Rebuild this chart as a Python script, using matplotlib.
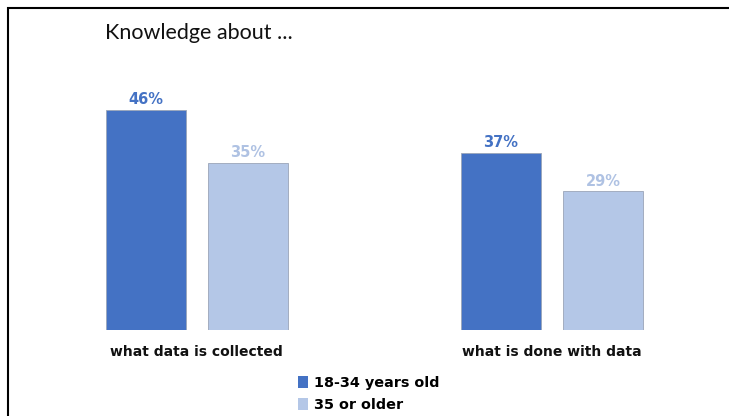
import numpy as np
import matplotlib.pyplot as plt
from matplotlib.patches import Rectangle, Patch

# data
categories = ['what data is collected', 'what is done with data']
series = ['18-34 years old', '35 or older']
young = [46, 37]
older = [35, 29]
colors = ['#4472C4', '#B4C7E7']
label_colors = ['#4472C4', '#AFC2E3']

W, H = 729, 416
fig = plt.figure(figsize=(W / 100, H / 100), dpi=100)

# axes bottom sits on the bar baseline (330 px from top)
base = 330
top = 60
ax = fig.add_axes([0, (H - base) / H, 1, (base - top) / H])
ppu = 355.5  # px between category centres
ax.set_xlim(-196.5 / ppu, (W - 196.5) / ppu)
ax.set_ylim(0, (base - top) / 4.78)

x = np.arange(len(categories))
w = 80 / ppu
off = 102 / 2 / ppu
for vals, c, lc, sign in [(young, colors[0], label_colors[0], -1),
                          (older, colors[1], label_colors[1], 1)]:
    bars = ax.bar(x + sign * off, vals, w, color=c, edgecolor='#9AA5B8', linewidth=0.6)
    for b, v in zip(bars, vals):
        ax.text(b.get_x() + b.get_width() / 2, v + 0.6, f'{v}%', ha='center', va='bottom',
                color=lc, fontsize=10.5, fontweight='bold', family='DejaVu Sans')

ax.set_xticks(x)
ax.set_xticklabels(categories, fontsize=10, fontweight='bold', color='#111111')
ax.tick_params(axis='x', length=0, pad=11)
ax.set_yticks([])
for s in ax.spines.values():
    s.set_visible(False)
ax.patch.set_visible(False)

fig.text(105 / W, 1 - 33 / H, 'Knowledge about ...', fontsize=15.5, family='Lato',
         va='center', ha='left', color='#111111')

handles = [Patch(facecolor=c, edgecolor='none') for c in colors]
fig.legend(handles, series, loc='center left', bbox_to_anchor=(285 / W, 1 - 394 / H),
           frameon=False, prop={'weight': 'bold', 'size': 10.4},
           handlelength=0.7, handleheight=0.9, handletextpad=0.4, labelspacing=0.5)

# frame around the chart, cut off at the right and bottom
fig.patches.append(Rectangle((7.5 / W, -0.1), 1.2, 1 - 8 / H + 0.1,
                             transform=fig.transFigure, fill=False,
                             edgecolor='black', linewidth=1.5))

fig.savefig('out.png', dpi=100)
